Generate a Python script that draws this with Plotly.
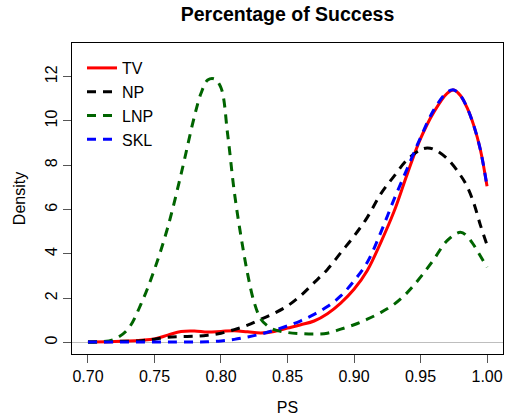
import plotly.graph_objects as go

# ---- data ----
tv_x = [0.70, 0.72, 0.74, 0.75, 0.76, 0.77, 0.78, 0.79, 0.80, 0.81, 0.82, 0.83, 0.84, 0.85, 0.86, 0.87,
        0.88, 0.89, 0.90, 0.91, 0.92, 0.93, 0.94, 0.95, 0.96, 0.97, 0.975, 0.98, 0.985, 0.99, 0.995, 1.00]
tv_y = [0.02, 0.04, 0.10, 0.16, 0.33, 0.50, 0.52, 0.47, 0.50, 0.53, 0.48, 0.43, 0.50, 0.65, 0.80, 0.97,
        1.30, 1.78, 2.40, 3.25, 4.50, 5.90, 7.60, 9.20, 10.40, 11.25, 11.40, 11.15, 10.60, 9.80, 8.70, 7.05]

np_x = [0.70, 0.72, 0.74, 0.75, 0.76, 0.77, 0.78, 0.79, 0.80, 0.81, 0.82, 0.83, 0.84, 0.85, 0.86, 0.87,
        0.88, 0.89, 0.90, 0.91, 0.92, 0.93, 0.94, 0.95, 0.955, 0.96, 0.97, 0.98, 0.985, 0.99, 0.995, 1.00]
np_y = [0.02, 0.05, 0.08, 0.15, 0.24, 0.27, 0.28, 0.33, 0.42, 0.58, 0.78, 1.05, 1.32, 1.65, 2.12, 2.70,
        3.30, 4.05, 4.80, 5.65, 6.70, 7.50, 8.25, 8.70, 8.78, 8.72, 8.30, 7.55, 7.05, 6.30, 5.30, 4.40]

lnp_x = [0.70, 0.71, 0.72, 0.73, 0.74, 0.75, 0.76, 0.77, 0.78, 0.785, 0.79, 0.795, 0.80, 0.805, 0.81,
         0.815, 0.82, 0.825, 0.83, 0.835, 0.84, 0.85, 0.86, 0.87, 0.88, 0.89, 0.90, 0.91, 0.92, 0.93,
         0.94, 0.95, 0.96, 0.97, 0.98, 0.985, 0.99, 0.995, 1.00]
lnp_y = [0.02, 0.03, 0.15, 0.60, 1.75, 3.30, 5.20, 7.60, 10.20, 11.25, 11.85, 11.90, 11.50, 9.40, 6.80,
         4.80, 3.10, 1.80, 1.05, 0.75, 0.58, 0.45, 0.40, 0.38, 0.42, 0.60, 0.80, 1.05, 1.35, 1.72,
         2.25, 2.95, 3.75, 4.60, 4.98, 4.80, 4.40, 3.90, 3.40]

skl_x = [0.70, 0.72, 0.74, 0.76, 0.78, 0.79, 0.80, 0.81, 0.82, 0.83, 0.84, 0.85, 0.86, 0.87, 0.88, 0.89,
         0.90, 0.91, 0.92, 0.93, 0.94, 0.95, 0.96, 0.97, 0.975, 0.98, 0.985, 0.99, 0.995, 1.00]
skl_y = [0.02, 0.02, 0.02, 0.02, 0.02, 0.03, 0.07, 0.14, 0.25, 0.38, 0.55, 0.75, 0.98, 1.27, 1.62, 2.10,
         2.78, 3.62, 4.95, 6.45, 7.85, 9.25, 10.50, 11.30, 11.40, 11.15, 10.60, 9.80, 8.70, 7.05]

series = [
    ("TV", tv_x, tv_y, "#FF0000", "solid"),
    ("NP", np_x, np_y, "#000000", "9px,7px"),
    ("LNP", lnp_x, lnp_y, "#006400", "9px,7px"),
    ("SKL", skl_x, skl_y, "#0000FF", "9px,7px"),
]

x_ticks = [0.70, 0.75, 0.80, 0.85, 0.90, 0.95, 1.00]
y_ticks = [0, 2, 4, 6, 8, 10, 12]

FONT = "Liberation Sans, Arial, Helvetica, sans-serif"

fig = go.Figure()
for i, (name, xs, ys, col, dash) in enumerate(series):
    fig.add_trace(go.Scatter(
        x=xs, y=ys, mode="lines", name=name, legendgroup=f"g{i}",
        line=dict(color=col, width=3, dash=dash, shape="spline", smoothing=1.0),
    ))

fig.add_shape(type="line", xref="paper", yref="y", x0=0, x1=1, y0=0, y1=0,
              line=dict(color="#BEBEBE", width=1.2), layer="below")

fig.update_layout(
    width=508, height=420,
    margin=dict(l=72, r=5, t=43, b=66),
    paper_bgcolor="white", plot_bgcolor="white",
    font=dict(family=FONT, size=16, color="black"),
    title=dict(text="<b>Percentage of Success</b>", x=(72 + 503) / 2 / 508, xanchor="center",
               y=1 - 14 / 420, yanchor="middle", font=dict(size=19.5, family=FONT)),
    showlegend=True,
    legend=dict(x=10 / 431, y=1 - 8 / 311, xanchor="left", yanchor="top", bgcolor="rgba(0,0,0,0)",
                traceorder="grouped", tracegroupgap=0, font=dict(size=16, family=FONT),
                itemwidth=30),
    xaxis=dict(range=[0.688, 1.012], tickvals=x_ticks, ticktext=[f"{v:.2f}" for v in x_ticks],
               showgrid=False, zeroline=False, showline=True, linecolor="black", linewidth=1,
               mirror=True, ticks="outside", ticklen=8, tickcolor="#555555",
               title=dict(text="PS", standoff=17, font=dict(size=16)), tickfont=dict(size=16)),
    yaxis=dict(range=[-0.52, 13.52], tickvals=y_ticks, ticktext=[str(v) for v in y_ticks],
               showgrid=False, zeroline=False, showline=True, linecolor="black", linewidth=1,
               mirror=True, ticks="outside", ticklen=8, tickcolor="#555555", tickangle=-90,
               title=dict(text="Density", standoff=12, font=dict(size=16)), tickfont=dict(size=16)),
)

fig.write_html("out.html")
